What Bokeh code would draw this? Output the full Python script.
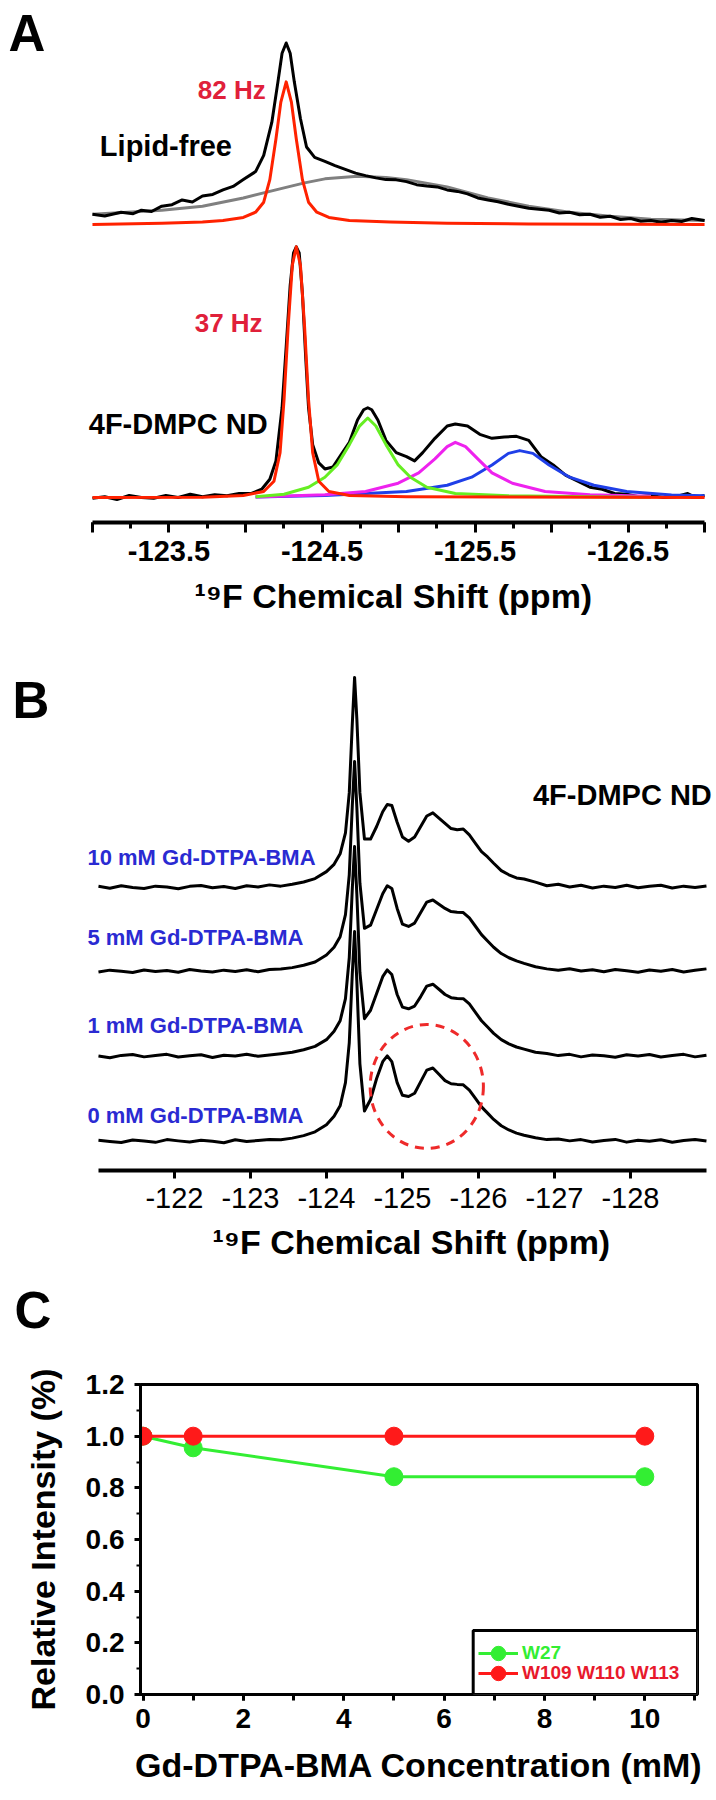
from bokeh.plotting import figure
from bokeh.models import (Range1d, FixedTicker, CustomJSTickFormatter, PrintfTickFormatter,
                          Label, Legend, LegendItem, BoxAnnotation, Title)
from bokeh.layouts import column
from bokeh.embed import file_html
from bokeh.resources import INLINE

FONT = "Liberation Sans"

# ---------------- Panel A data (ppm, intensity a.u.) ----------------
a_top_black_ppm = [-123.000, -123.080, -123.187, -123.266, -123.320, -123.386, -123.453, -123.520, -123.586,
                   -123.653, -123.719, -123.786, -123.853, -123.919, -123.986, -124.066, -124.119, -124.172,
                   -124.212, -124.239, -124.266, -124.292, -124.319, -124.359, -124.399, -124.452, -124.519,
                   -124.585, -124.652, -124.719, -124.785, -124.852, -124.918, -124.985, -125.052, -125.118,
                   -125.185, -125.252, -125.318, -125.385, -125.451, -125.518, -125.585, -125.651, -125.718,
                   -125.784, -125.851, -125.918, -125.984, -126.051, -126.118, -126.184, -126.251, -126.318,
                   -126.384, -126.451, -126.517, -126.584, -126.650, -126.717, -126.784, -126.850, -126.917,
                   -127.000]
a_top_black_int = [4.1, 3.4, 4.9, 4.3, 5.7, 5.2, 7.3, 7.9, 9.8, 9.0, 11.4, 12.0, 13.8, 15.2, 17.9, 21.1, 27.6,
                   40.7, 56.9, 68.3, 72.4, 68.3, 56.9, 42.3, 30.9, 26.8, 25.2, 23.5, 22.0, 20.5, 19.5, 18.6,
                   17.9, 17.8, 17.1, 15.9, 15.4, 15.0, 13.8, 13.2, 12.2, 10.6, 9.8, 9.1, 8.1, 7.3, 6.5, 6.1,
                   5.7, 4.6, 4.9, 3.9, 4.1, 2.9, 3.3, 2.0, 2.4, 1.3, 1.6, 0.9, 1.6, 1.2, 2.4, 1.6]

a_top_red_ppm = [-123.000, -123.453, -123.719, -123.853, -123.986, -124.066, -124.119, -124.159, -124.199,
                 -124.231, -124.266, -124.300, -124.332, -124.372, -124.412, -124.466, -124.545, -124.679,
                 -124.945, -125.318, -125.851, -127.000]
a_top_red_int = [0.0, 0.5, 1.0, 1.6, 2.8, 4.9, 8.9, 17.9, 34.1, 48.8, 56.9, 48.8, 34.1, 17.9, 8.9, 4.9, 2.8,
                 1.6, 1.0, 0.5, 0.2, 0.0]

a_top_gray_ppm = [-123.000, -123.453, -123.719, -123.986, -124.252, -124.386, -124.519, -124.732, -124.918,
                  -125.052, -125.318, -125.585, -125.851, -126.118, -126.384, -126.650, -127.000]
a_top_gray_int = [4.1, 5.7, 7.3, 10.6, 14.6, 16.6, 18.2, 19.2, 18.7, 17.9, 15.0, 10.6, 7.3, 4.9, 3.3, 2.1, 1.6]

a_bot_black_ppm = [-123.000, -123.080, -123.160, -123.240, -123.320, -123.400, -123.480, -123.560, -123.639,
                   -123.719, -123.799, -123.879, -123.959, -124.039, -124.106, -124.159, -124.199, -124.239,
                   -124.266, -124.292, -124.314, -124.332, -124.351, -124.372, -124.394, -124.412, -124.439,
                   -124.479, -124.519, -124.572, -124.625, -124.679, -124.732, -124.772, -124.799, -124.825,
                   -124.865, -124.918, -124.985, -125.052, -125.105, -125.158, -125.238, -125.318, -125.371,
                   -125.451, -125.531, -125.611, -125.691, -125.771, -125.851, -125.931, -126.011, -126.091,
                   -126.171, -126.251, -126.331, -126.411, -126.491, -126.570, -126.650, -126.730, -126.810,
                   -126.890, -126.943, -127.000]
a_bot_black_int = [-0.3, 0.3, -0.8, 0.8, 0.0, -0.3, 0.8, 0.0, 1.3, 0.3, 1.1, 0.7, 1.6, 1.6, 3.3, 7.3, 14.6,
                   35.8, 60.2, 84.6, 97.6, 100.0, 97.6, 81.3, 55.3, 35.8, 21.1, 13.8, 11.4, 12.2, 17.1, 22.0,
                   30.9, 35.0, 35.8, 35.0, 30.9, 22.8, 17.9, 16.3, 14.6, 17.9, 23.6, 28.5, 29.3, 28.5, 25.2,
                   23.6, 24.1, 24.4, 22.8, 16.3, 13.0, 8.9, 6.5, 4.1, 3.3, 1.6, 1.3, 0.3, 0.8, 0.0, 0.3, 1.6,
                   0.0, 0.8]

a_bot_red_ppm = [-123.000, -123.719, -123.986, -124.119, -124.186, -124.226, -124.252, -124.279, -124.306,
                 -124.332, -124.359, -124.386, -124.412, -124.439, -124.479, -124.545, -124.679, -125.052,
                 -127.000]
a_bot_red_int = [0.0, 0.1, 0.8, 2.4, 6.5, 17.9, 39.0, 68.3, 92.7, 100.0, 92.7, 68.3, 39.0, 17.9, 6.5, 2.4,
                 0.8, 0.3, 0.0]

a_green_ppm = [-124.066, -124.252, -124.412, -124.519, -124.599, -124.679, -124.745, -124.799, -124.852,
               -124.918, -124.998, -125.078, -125.185, -125.371, -125.718, -126.384, -126.650]
a_green_int = [0.3, 1.3, 4.1, 8.1, 13.0, 21.1, 28.5, 31.7, 28.5, 21.1, 13.0, 8.1, 4.1, 1.6, 0.7, 0.2, 0.1]

a_magenta_ppm = [-124.066, -124.519, -124.785, -124.998, -125.132, -125.238, -125.318, -125.371, -125.438,
                 -125.518, -125.611, -125.744, -125.958, -126.251, -126.650]
a_magenta_int = [0.2, 1.1, 2.4, 5.7, 9.8, 15.4, 20.3, 22.0, 20.3, 15.4, 9.8, 5.7, 2.4, 1.1, 0.5]

a_blue_ppm = [-124.066, -124.519, -125.052, -125.318, -125.478, -125.611, -125.718, -125.792, -125.878,
              -125.984, -126.118, -126.277, -126.491, -126.784, -127.000]
a_blue_int = [0.2, 0.8, 2.4, 4.9, 8.1, 13.0, 17.6, 18.7, 17.6, 13.0, 8.1, 4.9, 2.4, 1.0, 0.7]

A_TOP_OFFSET = 108.9  # vertical stacking of the lipid-free spectrum

# ---------------- Panel B data ----------------
b_ppm = [-121.0, -121.15, -121.3, -121.45, -121.6, -121.75, -121.9, -122.05, -122.2, -122.35, -122.5,
         -122.65, -122.8, -122.95, -123.1, -123.25, -123.4, -123.55, -123.7, -123.85, -124.0, -124.1,
         -124.18, -124.25, -124.3, -124.34, -124.37, -124.40, -124.44, -124.5, -124.58, -124.66, -124.74,
         -124.8, -124.86, -124.93, -125.0, -125.08, -125.16, -125.24, -125.32, -125.4, -125.48, -125.56,
         -125.64, -125.72, -125.8, -125.88, -125.96, -126.04, -126.12, -126.2, -126.3, -126.4, -126.5,
         -126.6, -126.75, -126.9, -127.05, -127.2, -127.35, -127.5, -127.65, -127.8, -127.95, -128.1,
         -128.25, -128.4, -128.55, -128.7, -128.85, -129.0]
b_0mM = [0.6, 0.0, -0.5, 0.7, 0.2, -0.4, 0.9, 0.3, -0.2, 0.6, 0.1, -0.6, 0.8, 0.0, 0.5, 1.0, 0.8, 1.6, 2.8,
         4.6, 8, 12, 17, 28, 47, 80, 100, 76, 37, 14.5, 20, 30, 38, 40.8, 38, 28, 22, 21.4, 23, 28.5, 34,
         35, 32, 29, 27.5, 27.2, 27, 24.5, 20.5, 16.5, 13.5, 10.5, 7.5, 5.5, 4, 3, 1.8, 0.9, 1.2, 0.3, 0.9,
         -0.2, 0.5, 1.0, -0.3, 0.6, 0.1, 0.8, -0.4, 0.5, 0.9, 0.2]
b_1mM = [0.2, -0.6, 0.5, 0.9, -0.2, 0.4, 1.0, -0.3, 0.3, 0.8, -0.5, 0.6, 0.2, 1.0, 0.1, 0.7, 1.3, 2.0, 3.2,
         4.8, 8, 12, 17, 27.5, 47, 80, 100, 77, 40, 18, 22, 30, 38, 41.2, 39, 29.5, 23.5, 22.7, 24, 28.5,
         33.5, 34.4, 32, 29.5, 28, 27.6, 27.5, 25, 21, 17, 14, 11, 8, 6, 4.5, 3.5, 2.0, 1.4, 0.4, 1.0,
         -0.2, 0.7, 0.3, -0.4, 0.8, 0.2, 0.9, -0.3, 0.5, 1.0, -0.2, 0.6]
b_5mM = [-0.3, 0.6, 0.1, -0.5, 0.7, 0.0, 0.4, -0.4, 0.9, 0.2, -0.3, 0.6, 0.0, 0.8, -0.2, 0.9, 1.1, 1.8, 2.9,
         4.5, 7.8, 11.5, 16.5, 27, 46, 79, 100, 78, 42, 20.5, 22, 29.5, 37, 40.8, 39.5, 30, 22.5, 21.4, 23,
         28, 33, 34, 32, 30, 28.5, 28.2, 28, 25.5, 21.5, 17.5, 14.5, 11.5, 8.5, 6.5, 5, 3.8, 2.2, 1.2, 0.5,
         1.3, 0.2, 0.8, -0.2, 0.9, 0.3, -0.4, 0.7, 0.1, 0.9, -0.3, 0.5, 1.2]
b_10mM = [0.5, -0.4, 0.8, 0.0, -0.5, 0.6, 0.2, -0.6, 0.5, 0.9, -0.2, 0.4, -0.5, 0.8, 0.2, 1.2, 0.6, 1.5,
          2.6, 4.2, 7.5, 11, 16, 26, 45, 78, 100, 80, 45, 23, 23, 29, 36, 39.5, 39, 31, 24, 22, 24, 29, 34,
          35.5, 33, 30.5, 28, 27.5, 27.8, 25, 21, 17, 14.5, 11.5, 8, 6, 4.5, 4, 2.5, 0.8, 1.5, 0.2, 1.0,
          -0.3, 0.6, 0.0, 1.0, -0.2, 0.5, 1.0, -0.3, 0.6, 0.0, 0.7]
b_traces = [b_0mM, b_1mM, b_5mM, b_10mM]
b_names = ["0 mM Gd-DTPA-BMA", "1 mM Gd-DTPA-BMA", "5 mM Gd-DTPA-BMA", "10 mM Gd-DTPA-BMA"]
B_OFFSETS = [0.0, 40.5, 81.0, 121.0]
B_LABEL_Y = [12.4, 55.2, 97.1, 135.2]

# ---------------- Panel C data ----------------
conc_mM = [0, 1, 5, 10]
w27 = [1.0, 0.955, 0.843, 0.843]
w109_110_113 = [1.0, 1.0, 1.0, 1.0]

RED = "#ff2200"
HZ_RED = "#e0203a"
GRAY = "#808080"
GREEN = "#66ee22"
MAGENTA = "#ee22ee"
BLUE = "#1f3fe8"
LBL_BLUE = "#2a2ad2"
C_GREEN = "#33ee33"
C_RED = "#ff1a1a"
AXIS_LABEL = "\u00b9\u2079F Chemical Shift (ppm)"
W = 716


def base_fig(**kw):
    p = figure(output_backend="svg", toolbar_location=None, **kw)
    p.grid.visible = False
    p.background_fill_color = "white"
    p.border_fill_color = "white"
    try:
        p.frame_align = False
    except Exception:
        pass
    return p


def style_axis(ax, size, bold=True):
    ax.axis_line_color = "black"
    ax.major_tick_line_color = "black"
    ax.minor_tick_line_color = "black"
    ax.major_label_text_font = FONT
    ax.major_label_text_font_style = "bold" if bold else "normal"
    ax.major_label_text_font_size = size
    ax.major_label_text_color = "black"
    ax.axis_label_text_font = FONT
    ax.axis_label_text_font_style = "bold"
    ax.axis_label_text_color = "black"
    ax.major_tick_in = 0
    ax.minor_tick_in = 0


def add_label(p, x, y, text, size, color="black", align="center", bold=True):
    p.add_layout(Label(x=x, y=y, text=text, text_font=FONT, text_font_size=size,
                       text_font_style="bold" if bold else "normal", text_color=color,
                       text_align=align, text_baseline="middle"))


def below_title(p, text, offset, standoff):
    p.add_layout(Title(text=text, align="left", offset=offset, standoff=standoff,
                       text_font=FONT, text_font_size="34px", text_font_style="bold",
                       text_color="black"), "below")


# ================= Panel A =================
pa = base_fig(width=W, height=642, x_range=Range1d(-122.399, -127.078), y_range=Range1d(-9.97, 198.25),
              y_axis_location=None, min_border_left=0, min_border_right=0,
              min_border_top=0, min_border_bottom=120)
pa.outline_line_color = None
LW = 3
pa.line(a_top_gray_ppm, [v + A_TOP_OFFSET for v in a_top_gray_int], line_color=GRAY, line_width=LW,
        line_join="round")
pa.line(a_top_black_ppm, [v + A_TOP_OFFSET for v in a_top_black_int], line_color="black", line_width=LW,
        line_join="round")
pa.line(a_top_red_ppm, [v + A_TOP_OFFSET for v in a_top_red_int], line_color=RED, line_width=LW,
        line_join="round")
pa.line(a_bot_black_ppm, a_bot_black_int, line_color="black", line_width=LW, line_join="round")
pa.line(a_blue_ppm, a_blue_int, line_color=BLUE, line_width=LW, line_join="round")
pa.line(a_magenta_ppm, a_magenta_int, line_color=MAGENTA, line_width=LW, line_join="round")
pa.line(a_green_ppm, a_green_int, line_color=GREEN, line_width=LW, line_join="round")
pa.line(a_bot_red_ppm, a_bot_red_int, line_color=RED, line_width=LW, line_join="round")

ax = pa.xaxis[0]
style_axis(ax, "29px", bold=True)
ax.bounds = (-127, -123)
ax.ticker = FixedTicker(ticks=[-123 - 0.5 * i for i in range(9)],
                        minor_ticks=[-123 - 0.25 * i for i in range(17)])
ax.formatter = CustomJSTickFormatter(
    code="return (Math.round(Math.abs(tick) * 2) % 2 == 1) ? tick.toFixed(1) : '';")
ax.axis_line_width = 4
ax.major_tick_line_width = 3
ax.minor_tick_line_width = 3
ax.major_tick_out = 10
ax.minor_tick_out = 6
ax.major_label_standoff = 8
below_title(pa, AXIS_LABEL, offset=194, standoff=22)

add_label(pa, -122.451, 185.1, "A", "51px", align="left")
add_label(pa, -123.91, 162.7, "82 Hz", "26px", color=HZ_RED)
add_label(pa, -123.48, 140.4, "Lipid-free", "29px")
add_label(pa, -123.89, 69.8, "37 Hz", "26px", color=HZ_RED)
add_label(pa, -123.56, 29.5, "4F-DMPC ND", "29px")

# ================= Panel B =================
pb = base_fig(width=W, height=638, x_range=Range1d(-119.711, -129.132), y_range=Range1d(-13.81, 237.62),
              y_axis_location=None, min_border_left=0, min_border_right=0,
              min_border_top=0, min_border_bottom=110)
pb.outline_line_color = None
for trace, off in zip(b_traces, B_OFFSETS):
    pb.line(b_ppm, [v + off for v in trace], line_color="black", line_width=3, line_join="round")
pb.ellipse(x=[-125.32], y=[26.2], width=[1.49], height=[59], fill_color=None,
           line_color="#ee2a2a", line_width=3, line_dash="9 7")

bx = pb.xaxis[0]
style_axis(bx, "29px", bold=False)
bx.bounds = (-129, -121)
bx.ticker = FixedTicker(ticks=[-122, -123, -124, -125, -126, -127, -128], minor_ticks=[])
bx.formatter = CustomJSTickFormatter(code="return tick.toFixed(0);")
bx.axis_line_width = 4
bx.major_tick_line_width = 3
bx.major_tick_out = 8
bx.major_label_standoff = 9
below_title(pb, AXIS_LABEL, offset=212, standoff=20)

add_label(pb, -119.868, 210, "B", "51px", align="left")
add_label(pb, -129.07, 164.8, "4F-DMPC ND", "29px", align="right")
for name, ly in zip(b_names, B_LABEL_Y):
    add_label(pb, -120.855, ly, name, "22px", color=LBL_BLUE, align="left")

# ================= Panel C letter strip =================
pl = base_fig(width=W, height=70, x_range=Range1d(0, W), y_range=Range1d(0, 70),
              x_axis_location=None, y_axis_location=None, min_border_left=0, min_border_right=0,
              min_border_top=0, min_border_bottom=0)
pl.outline_line_color = None
add_label(pl, 14, 40, "C", "51px", align="left")

# ================= Panel C =================
pc = base_fig(width=W, height=442, x_range=Range1d(-0.05, 11.05), y_range=Range1d(0, 1.2),
              min_border_left=140, min_border_right=19, min_border_top=34, min_border_bottom=98)
pc.outline_line_color = "black"
pc.outline_line_width = 3
pc.outline_line_alpha = 1.0

gl = pc.line(conc_mM, w27, line_color=C_GREEN, line_width=3)
gs = pc.scatter(conc_mM, w27, size=18, fill_color=C_GREEN, line_color=C_GREEN)
rl = pc.line(conc_mM, w109_110_113, line_color=C_RED, line_width=3)
rs = pc.scatter(conc_mM, w109_110_113, size=18, fill_color=C_RED, line_color=C_RED)

cx = pc.xaxis[0]
style_axis(cx, "28px", bold=True)
cx.ticker = FixedTicker(ticks=[0, 2, 4, 6, 8, 10], minor_ticks=list(range(0, 12)))
cx.axis_line_width = 3
cx.major_tick_line_width = 3
cx.minor_tick_line_width = 3
cx.major_tick_out = 6
cx.minor_tick_out = 6
cx.major_label_standoff = 8
cx.axis_label = "Gd-DTPA-BMA Concentration (mM)"
cx.axis_label_text_font_size = "34px"
cx.axis_label_standoff = 15

cy = pc.yaxis[0]
style_axis(cy, "28px", bold=True)
cy.ticker = FixedTicker(ticks=[0, 0.2, 0.4, 0.6, 0.8, 1.0, 1.2],
                        minor_ticks=[0.1 * i for i in range(13)])
cy.formatter = PrintfTickFormatter(format="%.1f")
cy.axis_line_width = 3
cy.major_tick_line_width = 3
cy.minor_tick_line_width = 2
cy.major_tick_out = 6
cy.minor_tick_out = 4
cy.major_label_standoff = 10
cy.axis_label = "Relative Intensity (%)"
cy.axis_label_text_font_size = "34px"
cy.axis_label_standoff = 21

pc.add_layout(BoxAnnotation(left=6.58, right=11.05, bottom=0, top=0.248, fill_color="white",
                            fill_alpha=1.0, line_color="black", line_width=3, line_alpha=1.0))
for label, rends, col, yoff in [("W27", [gl, gs], C_GREEN, 23),
                                ("W109 W110 W113", [rl, rs], "#e8192c", 3)]:
    leg = Legend(items=[LegendItem(label=label, renderers=rends)], location=(338, yoff),
                 glyph_height=36, glyph_width=40, label_standoff=4, padding=0, margin=0,
                 spacing=0, border_line_color=None, background_fill_alpha=0,
                 label_text_font=FONT, label_text_font_style="bold", label_text_font_size="19px",
                 label_text_color=col)
    pc.add_layout(leg)

layout = column(pa, pb, pl, pc)
open("out.html", "w").write(file_html(layout, INLINE))
